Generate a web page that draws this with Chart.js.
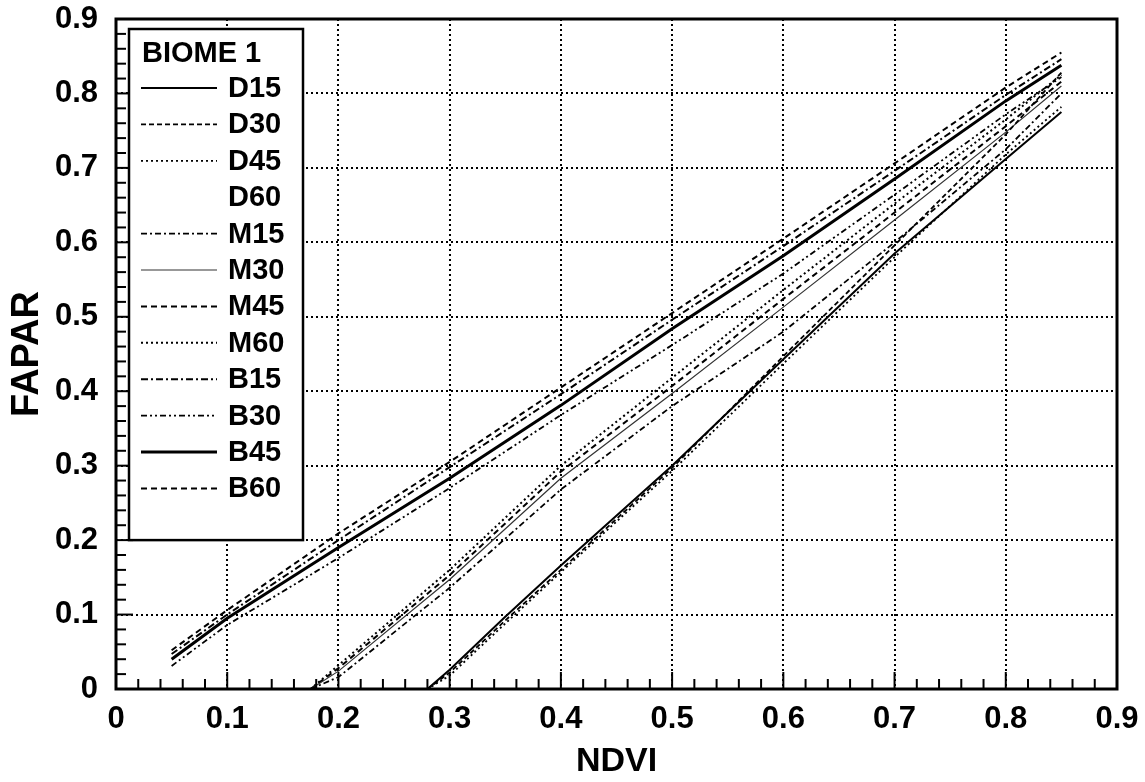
<!DOCTYPE html>
<html>
<head>
<meta charset="utf-8">
<title>FAPAR vs NDVI - Biome 1</title>
<script src="https://cdn.jsdelivr.net/npm/chart.js@4.4.1/dist/chart.umd.min.js"></script>
<style>
  html, body { margin: 0; padding: 0; background: #fff; }
  #wrap { position: relative; width: 1145px; height: 782px; }
</style>
</head>
<body>
<div id="wrap"><canvas id="chart"></canvas></div>
<script>
// x values (NDVI) for each group of curves
const ndviD = [0.28, 0.30, 0.35, 0.40, 0.50, 0.60, 0.70, 0.80, 0.85];
const ndviM = [0.175, 0.20, 0.30, 0.40, 0.50, 0.60, 0.70, 0.80, 0.85];
const ndviB = [0.05, 0.10, 0.20, 0.30, 0.40, 0.50, 0.60, 0.70, 0.80, 0.85];

// FAPAR values
const faparD15 = [0, 0.026, 0.097, 0.166, 0.300, 0.443, 0.585, 0.712, 0.775];
const faparD30 = [0, 0.022, 0.092, 0.160, 0.297, 0.447, 0.596, 0.745, 0.828];
const faparD45 = [0, 0.018, 0.088, 0.157, 0.293, 0.437, 0.580, 0.718, 0.782];
const faparD60 = [0, 0.024, 0.094, 0.162, 0.298, 0.440, 0.583, 0.715, 0.780];

const faparM15 = [0, 0.016, 0.136, 0.268, 0.380, 0.480, 0.600, 0.725, 0.800];
const faparM30 = [0, 0.024, 0.147, 0.283, 0.397, 0.513, 0.630, 0.748, 0.810];
const faparM45 = [0, 0.028, 0.153, 0.292, 0.407, 0.524, 0.640, 0.756, 0.816];
const faparM60 = [0, 0.032, 0.160, 0.300, 0.418, 0.536, 0.652, 0.765, 0.825];

const faparB15 = [0.047, 0.100, 0.200, 0.298, 0.396, 0.496, 0.595, 0.696, 0.798, 0.846];
const faparB30 = [0.031, 0.086, 0.176, 0.270, 0.368, 0.462, 0.558, 0.664, 0.772, 0.822];
const faparB45 = [0.040, 0.095, 0.190, 0.283, 0.381, 0.484, 0.582, 0.685, 0.790, 0.838];
const faparB60 = [0.052, 0.106, 0.209, 0.305, 0.405, 0.505, 0.605, 0.706, 0.808, 0.855];

const xTickLabels = ['0', '0.1', '0.2', '0.3', '0.4', '0.5', '0.6', '0.7', '0.8', '0.9'];
const yTickLabels = ['0', '0.1', '0.2', '0.3', '0.4', '0.5', '0.6', '0.7', '0.8', '0.9'];
const legendTitle = 'BIOME 1';

const FONT = '"Liberation Sans", Arial, Helvetica, sans-serif';

function pts(xs, ys) { return xs.map((x, i) => ({ x: x, y: ys[i] })); }

function line(label, xs, ys, dash, width, color) {
  return {
    label: label,
    data: pts(xs, ys),
    borderColor: color || '#000',
    borderWidth: width,
    borderDash: dash,
    pointRadius: 0,
    fill: false,
    tension: 0
  };
}

const datasets = [
  line('D15', ndviD, faparD15, [], 2),
  line('D30', ndviD, faparD30, [5, 3], 1.8),
  line('D45', ndviD, faparD45, [2, 3], 1.8),
  line('D60', ndviD, faparD60, [], 1.2, 'rgba(0,0,0,0)'),
  line('M15', ndviM, faparM15, [6, 3, 2, 3], 1.8),
  line('M30', ndviM, faparM30, [], 1.2, '#333'),
  line('M45', ndviM, faparM45, [6, 4], 2),
  line('M60', ndviM, faparM60, [2, 3], 2),
  line('B15', ndviB, faparB15, [7, 3, 2, 3], 2),
  line('B30', ndviB, faparB30, [6, 3, 2, 3, 2, 3], 1.8),
  line('B45', ndviB, faparB45, [], 3),
  line('B60', ndviB, faparB60, [6, 4], 2)
];

// minor ticks, frame and boxed legend inside the plot
const framePlugin = {
  id: 'framePlugin',
  afterDraw(chart) {
    const { ctx, chartArea: a, scales: { x, y } } = chart;
    ctx.save();
    ctx.setLineDash([]);
    ctx.strokeStyle = '#000';
    ctx.lineWidth = 2;
    for (let k = 0; k <= 45; k++) {
      const v = k / 50;
      const len = (k % 5 === 0) ? 17 : 10;
      const px = x.getPixelForValue(v);
      ctx.beginPath(); ctx.moveTo(px, a.bottom); ctx.lineTo(px, a.bottom - len); ctx.stroke();
      const py = y.getPixelForValue(v);
      ctx.beginPath(); ctx.moveTo(a.left, py); ctx.lineTo(a.left + len, py); ctx.stroke();
    }
    ctx.lineWidth = 3;
    ctx.strokeRect(a.left, a.top, a.right - a.left, a.bottom - a.top);

    // legend box
    const bx = a.left + 13, by = a.top + 10;
    const bw = 174, bh = y.getPixelForValue(0.2) - by;
    ctx.fillStyle = '#fff';
    ctx.fillRect(bx, by, bw, bh);
    ctx.lineWidth = 2.5;
    ctx.strokeRect(bx, by, bw, bh);
    ctx.fillStyle = '#000';
    ctx.font = 'bold 29px ' + FONT;
    ctx.textBaseline = 'middle';
    ctx.textAlign = 'left';
    ctx.fillText(legendTitle, bx + 13, by + 25);
    chart.data.datasets.forEach((ds, i) => {
      const ry = by + 59 + i * 36.4;
      ctx.save();
      ctx.strokeStyle = ds.borderColor;
      ctx.lineWidth = ds.borderWidth;
      ctx.setLineDash(ds.borderDash);
      ctx.beginPath(); ctx.moveTo(bx + 12, ry); ctx.lineTo(bx + 88, ry); ctx.stroke();
      ctx.restore();
      ctx.fillText(ds.label, bx + 99, ry + 1);
    });
    ctx.restore();
  }
};

Chart.defaults.font.family = FONT;
Chart.defaults.color = '#000';

new Chart(document.getElementById('chart'), {
  type: 'line',
  data: { datasets: datasets },
  options: {
    responsive: true,
    maintainAspectRatio: false,
    animation: false,
    layout: { padding: { left: 0, right: 28, top: 19, bottom: 0 } },
    plugins: { legend: { display: false }, tooltip: { enabled: false } },
    scales: {
      x: {
        type: 'linear',
        min: 0, max: 0.9,
        ticks: {
          stepSize: 0.1,
          padding: 12,
          font: { size: 31, weight: 'bold' },
          callback: v => xTickLabels[Math.round(v * 10)]
        },
        grid: { color: '#000', lineWidth: 2, drawTicks: false },
        border: { display: false, dash: [2, 3] },
        title: { display: true, text: 'NDVI', font: { size: 34, weight: 'bold' }, padding: { top: 0, bottom: 0 } },
        afterFit: s => { s.height = 93; s.paddingLeft = 0; s.paddingRight = 0; }
      },
      y: {
        type: 'linear',
        min: 0, max: 0.9,
        ticks: {
          stepSize: 0.1,
          padding: 18,
          font: { size: 31, weight: 'bold' },
          callback: v => yTickLabels[Math.round(v * 10)]
        },
        grid: { color: '#000', lineWidth: 2, drawTicks: false },
        border: { display: false, dash: [2, 3] },
        title: { display: true, text: 'FAPAR', font: { size: 38, weight: 'bold' }, padding: { top: 5, bottom: 0 } },
        afterFit: s => { s.width = 116; s.paddingTop = 0; s.paddingBottom = 0; }
      }
    }
  },
  plugins: [framePlugin]
});
</script>
</body>
</html>
